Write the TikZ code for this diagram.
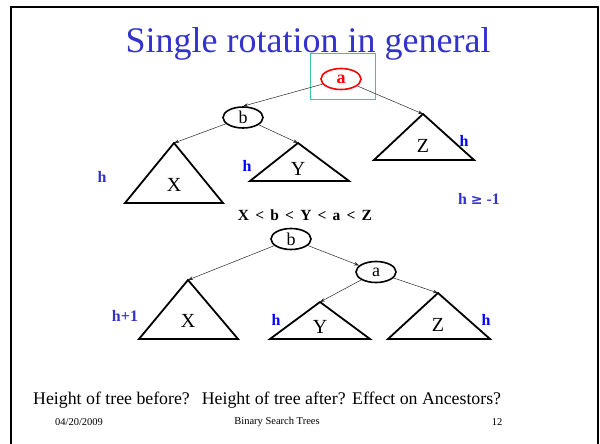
\documentclass[tikz,border=0pt]{standalone}
\usepackage{fontspec}
\setmainfont{Liberation Serif}
\newfontfamily\symfont{DejaVu Sans}
\usetikzlibrary{shapes.geometric,arrows.meta}
\definecolor{titleblue}{HTML}{3333CC}
\definecolor{hblue}{HTML}{0000FF}
\definecolor{tealbox}{HTML}{33CC99}
\tikzset{
  ell/.style={ellipse, draw, line width=1.6pt, minimum width=40pt, minimum height=21pt, inner sep=0pt, font=\fontsize{18}{18}\selectfont},
  arr/.style={-{Stealth[length=5pt,width=3.5pt]}, line width=0.5pt, draw=black!85},
  tri/.style={draw, line width=1.8pt, line join=miter},
  tlab/.style={font=\fontsize{20}{20}\selectfont},
  hlab/.style={font=\fontsize{16}{16}\selectfont\bfseries, text=hblue},
  hlabB/.style={font=\fontsize{16}{16}\selectfont\bfseries, text=titleblue},
}
\newcommand{\ltgap}{\hspace{6.2pt}<\hspace{6.2pt}}
\begin{document}
\begin{tikzpicture}[x=1pt,y=-1pt]
\useasboundingbox (0,0) rectangle (600,444);
% frame
\draw[line width=2pt] (11,444) -- (11,7) -- (598,7) -- (598,444);
% title
\node[text=titleblue, font=\fontsize{36}{36}\selectfont, anchor=base, inner sep=0pt] (title) at (308,53) {Single rotation in general};
% teal box
\draw[tealbox, line width=1pt] (310,54) rectangle (375,99);
% top tree
\node[ell, draw=red, text=red, font=\fontsize{18}{18}\selectfont\bfseries] (a1) at (341,79) {a};
\node[ell] (b1) at (243,117.5) {b};
\coordinate (X1) at (174,143);
\coordinate (Y1) at (298,143);
\coordinate (Z1) at (423,114);
\draw[tri] (X1) -- (125,203) -- (223,203) -- cycle;
\draw[tri] (Y1) -- (250,181) -- (349,181) -- cycle;
\draw[tri] (Z1) -- (374,160) -- (474,160) -- cycle;
\node[tlab] (xl1) at (174,185) {X};
\node[tlab] (yl1) at (298,169) {Y};
\node[tlab] (zl1) at (423,146) {Z};
\draw[arr] (a1) -- (b1.north);
\draw[arr] (a1) -- (Z1);
\draw[arr] (b1) -- (X1);
\draw[arr] (b1) -- (Y1);
\node[hlabB] (h1) at (102,177) {h};
\node[hlab] (h2) at (247,166) {h};
\node[hlab] (h3) at (464,141) {h};
\node[hlabB] (hge) at (479,199) {h {\symfont\fontsize{14}{14}\selectfont\bfseries≥} -1};
% ordering
\node[font=\fontsize{15.5}{15.5}\selectfont\bfseries, anchor=base, inner sep=0pt] (ord) at (305,220.5) {X\ltgap b\ltgap Y\ltgap a\ltgap Z};
% bottom tree
\node[ell] (b2) at (291,239) {b};
\node[ell] (a2) at (376,272) {a};
\coordinate (X2) at (188,280);
\coordinate (Y2) at (320,302);
\coordinate (Z2) at (438,293);
\draw[tri] (X2) -- (139,339) -- (238,339) -- cycle;
\draw[tri] (Y2) -- (270,339) -- (370,339) -- cycle;
\draw[tri] (Z2) -- (388,339) -- (490,339) -- cycle;
\node[tlab] (xl2) at (188,321) {X};
\node[tlab] (yl2) at (320,327) {Y};
\node[tlab] (zl2) at (438,325) {Z};
\draw[arr] (b2) -- (X2);
\draw[arr] (b2) -- (a2);
\draw[arr] (a2) -- (Y2);
\draw[arr] (a2) -- (Z2);
\node[hlabB] (h4) at (125,316) {h+1};
\node[hlab] (h5) at (276,320) {h};
\node[hlab] (h6) at (486,320) {h};
% bottom text
\node[font=\fontsize{17.8}{17.8}\selectfont, anchor=base west, inner sep=0pt] (q) at (33,404) {Height of tree before?\hspace{12pt}Height of tree after?\hspace{6.5pt}Effect on Ancestors?};
\node[font=\fontsize{10.5}{10.5}\selectfont] (date) at (79,422) {04/20/2009};
\node[font=\fontsize{10.5}{10.5}\selectfont] (foot) at (277,422) {Binary Search Trees};
\node[font=\fontsize{10.5}{10.5}\selectfont] (num) at (497,422) {12};
\end{tikzpicture}
\end{document}
